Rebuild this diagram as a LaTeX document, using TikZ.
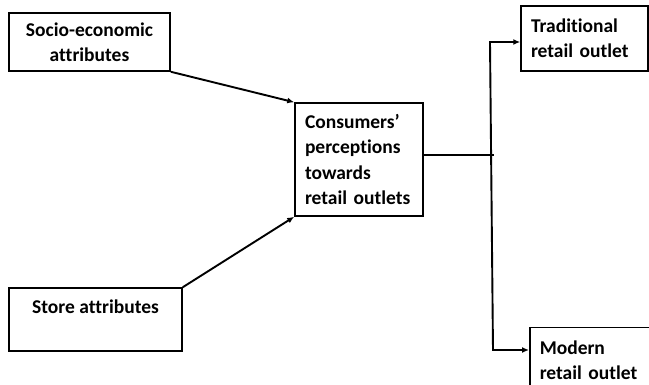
\documentclass[tikz,border=0pt]{standalone}
\usepackage{fontspec}
\setmainfont{Carlito}[Ligatures=NoCommon]
\usetikzlibrary{arrows.meta}

\tikzset{
  box/.style={draw, line width=1.5pt, inner xsep=10pt, inner ysep=0pt,
    font=\bfseries\fontsize{19.5}{25.3}\selectfont},
  arr/.style={line width=1.9pt, -{Latex[length=7pt,width=6pt]}}
}

\begin{document}
\begin{tikzpicture}[x=1pt, y=-1pt]
      \useasboundingbox (0, 0) rectangle (649, 385);

      \node[box, align=center, minimum width=161pt, minimum height=58pt] (socio) at (89.5, 42) {Socio-economic\\attributes};
      \node[box, align=center, minimum width=173pt, minimum height=63pt] (store) at (95.5, 319.5) {Store attributes\\\mbox{}};
      \node[box, align=left, text width=108pt, minimum height=113pt] (cons) at (359, 159.5) {Consumers’\\perceptions\\towards\\retail outlets};
      \node[box, align=left, text width=107pt, minimum height=65pt] (trad) at (584.5, 38.5) {Traditional\\retail outlet};
      \node[box, align=left, text width=107pt, minimum height=65pt, anchor=north west] (modern) at (529, 327) {Modern\\retail outlet};

      \coordinate (jn) at (494, 155);
      \coordinate (top) at (490, 42);
      \coordinate (bot) at (493, 350);

      \draw[arr] (socio.south east) -- (cons.north west);
      \draw[arr] (store.north east) -- (cons.south west);
      \draw[line width=1.9pt] (cons.east |- jn) -- (jn);
      \draw[arr, {Latex[length=7pt,width=6pt]}-{Latex[length=7pt,width=6pt]}] (top -| trad.west) -- (top) -- (bot) -- (bot -| modern.west);
    \end{tikzpicture}
\end{document}
